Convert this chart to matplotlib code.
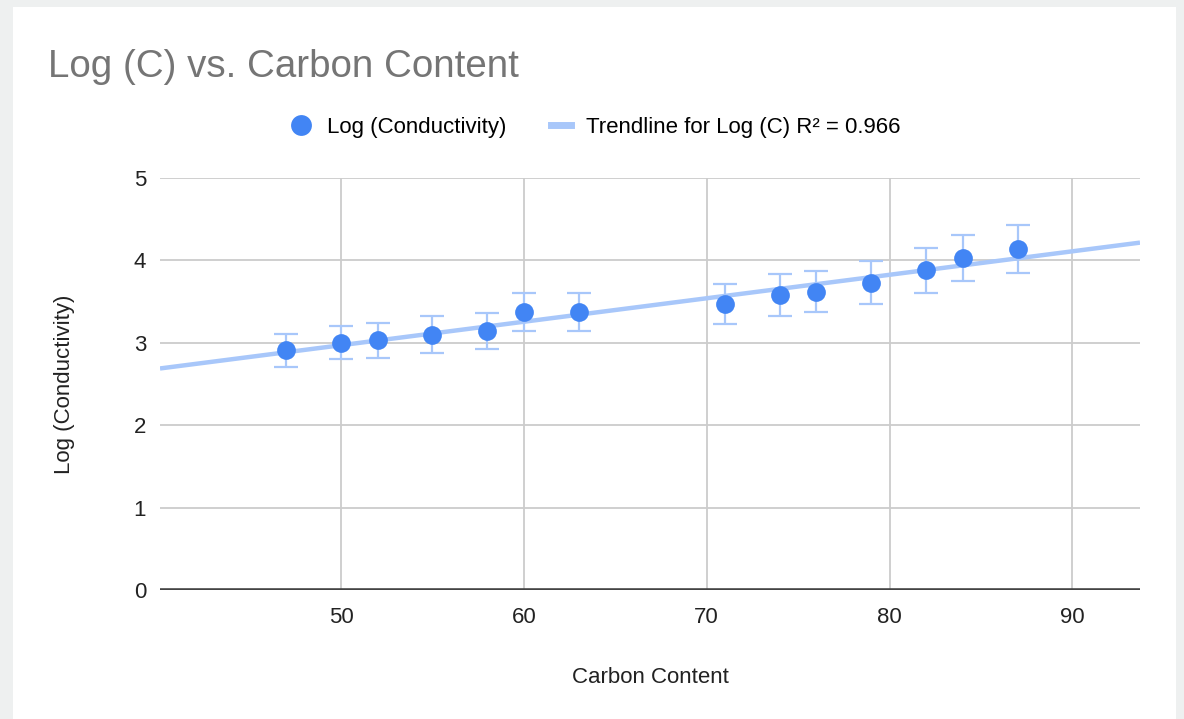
import numpy as np
import matplotlib
matplotlib.use("Agg")
import matplotlib.pyplot as plt
from matplotlib.patches import Rectangle
from matplotlib.lines import Line2D

plt.rcParams["font.family"] = ["Liberation Sans", "DejaVu Sans"]

# data
carbon = [47, 50, 52, 55, 58, 60, 63, 71, 74, 76, 79, 82, 84, 87]
log_cond = [2.91, 3.00, 3.03, 3.10, 3.14, 3.37, 3.37, 3.47, 3.58, 3.62,
            3.73, 3.88, 4.03, 4.14]
err = [0.20, 0.20, 0.21, 0.22, 0.22, 0.23, 0.23, 0.24, 0.25, 0.25,
       0.26, 0.27, 0.28, 0.29]
r2_text = "0.966"

x_lim = (40.1, 93.7)
y_ticks = [0, 1, 2, 3, 4, 5]
x_ticks = [50, 60, 70, 80, 90]

W, H = 1184, 719
fig = plt.figure(figsize=(W / 100, H / 100), dpi=100)
fig.patch.set_facecolor("#eef0f0")
fig.add_artist(Rectangle((13 / W, 0), (1176 - 13) / W, 1 - 7 / H,
                         transform=fig.transFigure, facecolor="white",
                         edgecolor="none", zorder=0))

ax = fig.add_axes([160 / W, 1 - 590 / H, (1140 - 160) / W, (590 - 178) / H])
ax.set_facecolor("none")

blue = "#4285f4"
light = "#a8c7fa"
fs = 16

# trendline (linear fit of the points)
slope, icpt = np.polyfit(carbon, log_cond, 1)
xs = np.array(x_lim)
ax.plot(xs, icpt + slope * xs, color=light, lw=3.2, zorder=2,
        solid_capstyle="butt")

ax.errorbar(carbon, log_cond, yerr=err, fmt="none", ecolor=light,
            elinewidth=1.6, capsize=8.5, capthick=1.6, zorder=3)
ax.plot(carbon, log_cond, "o", color=blue, ms=13.5, mec="none", zorder=4)

ax.set_xlim(*x_lim)
ax.set_ylim(0, 5)
ax.set_xticks(x_ticks)
ax.set_yticks(y_ticks)
ax.grid(True, color="#cccccc", lw=1.3)
ax.set_axisbelow(True)
for s in ax.spines.values():
    s.set_visible(False)
ax.axhline(0, color="#444444", lw=2.6, zorder=1)
ax.tick_params(length=0, labelsize=fs, colors="#222222", pad=12)
ax.tick_params(axis="y", pad=10)

ax.set_xlabel("Carbon Content", fontsize=fs, color="#222222", labelpad=28)
ax.set_ylabel("Log (Conductivity)", fontsize=fs, color="#222222",
              labelpad=42)

fig.text(48 / W, 1 - 67 / H, "Log (C) vs. Carbon Content", fontsize=27.7,
         color="#757575", va="center", ha="left")

handles = [Line2D([], [], marker="o", ls="none", color=blue, ms=15, mec="none"),
           Line2D([], [], color=light, lw=5)]
labels = ["Log (Conductivity)", "Trendline for Log (C) R\u00b2 = " + r2_text]
fig.legend(handles, labels, loc="center", bbox_to_anchor=(596 / W, 1 - 127 / H),
           ncol=2, frameon=False, fontsize=fs, handlelength=0.9,
           handletextpad=0.7, columnspacing=2.0)

fig.savefig("out.png", dpi=100, facecolor=fig.get_facecolor())
